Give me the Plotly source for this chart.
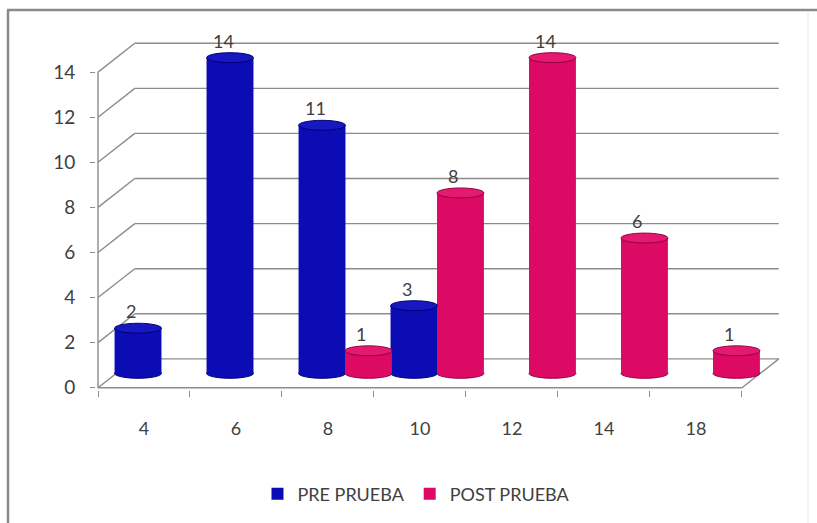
import plotly.graph_objects as go

# ---- data ----
categories = ["4", "6", "8", "10", "12", "14", "18"]
pre_prueba = [2, 14, 11, 3, 0, 0, 0]
post_prueba = [0, 0, 1, 8, 14, 6, 1]
y_ticks = [0, 2, 4, 6, 8, 10, 12, 14]

# ---- canvas geometry ----
W, H = 817, 523
M_L, M_R, M_T, M_B = 96, 35, 27, 132
X_RANGE = [-0.5217, 6.935]
Y_RANGE = [-0.1, 16]
DEPTH_X = 0.40      # back-wall shift, category units
DEPTH_Y = 1.28      # back-wall shift, value units
CAP = 0.22          # half height of cylinder caps, value units
Y2_RANGE = [Y_RANGE[0] - DEPTH_Y / 2, Y_RANGE[1] - DEPTH_Y / 2]

FONT = "Lato, 'Open Sans', sans-serif"
TEXT_COLOR = "#404040"
GRID = "#8c8c8c"

series = [
    dict(name="PRE PRUEBA", values=pre_prueba, body="#0c0cb4", cap="#1818c0",
         edge="#000078", offset=-0.32, width=0.51),
    dict(name="POST PRUEBA", values=post_prueba, body="#dc0a64", cap="#e41a70",
         edge="#960042", offset=0.185, width=0.51),
]


def paper_x(px):
    return (px - M_L) / (W - M_L - M_R)


def paper_y(py):
    return (H - M_B - py) / (H - M_T - M_B)


fig = go.Figure()

shapes = []
annotations = []

# walls and floor of the 3-D frame
x_left, x_right = -0.5, len(categories) - 0.5
for v in y_ticks:
    shapes.append(dict(type="line", xref="x", yref="y", layer="below",
                       x0=x_left, y0=v, x1=x_left + DEPTH_X, y1=v + DEPTH_Y,
                       line=dict(color=GRID, width=1.4)))
    shapes.append(dict(type="line", xref="x", yref="y", layer="below",
                       x0=x_left + DEPTH_X, y0=v + DEPTH_Y,
                       x1=x_right + DEPTH_X, y1=v + DEPTH_Y,
                       line=dict(color=GRID, width=1.4)))
shapes.append(dict(type="line", xref="x", yref="y", layer="below",
                   x0=x_left, y0=0, x1=x_left, y1=max(y_ticks),
                   line=dict(color=GRID, width=1.4)))
shapes.append(dict(type="line", xref="x", yref="y", layer="below",
                   x0=x_left, y0=0, x1=x_right, y1=0,
                   line=dict(color=GRID, width=1.4)))
shapes.append(dict(type="line", xref="x", yref="y", layer="below",
                   x0=x_right, y0=0, x1=x_right + DEPTH_X, y1=DEPTH_Y,
                   line=dict(color=GRID, width=1.4)))

# cylinders: bar body plus elliptical base and top
for s in series:
    fig.add_trace(go.Bar(
        x=categories,
        y=[v if v else None for v in s["values"]],
        name=s["name"],
        xaxis="x", yaxis="y2",
        offset=s["offset"], width=s["width"],
        marker=dict(color=s["body"], line=dict(width=0)),
        hoverinfo="x+y",
    ))
    for i, v in enumerate(s["values"]):
        if not v:
            continue
        x0 = i + s["offset"]
        x1 = x0 + s["width"]
        shapes.append(dict(type="circle", xref="x", yref="y2", layer="below",
                           x0=x0, x1=x1, y0=-CAP, y1=CAP,
                           fillcolor=s["body"], line=dict(color=s["edge"], width=1)))
        shapes.append(dict(type="circle", xref="x", yref="y2", layer="above",
                           x0=x0, x1=x1, y0=v - CAP, y1=v + CAP,
                           fillcolor=s["cap"], line=dict(color=s["edge"], width=1)))
        annotations.append(dict(xref="x", yref="y2", x=(x0 + x1) / 2, y=v,
                                text=str(v), showarrow=False, xshift=-7, yshift=17,
                                font=dict(family=FONT, size=18, color=TEXT_COLOR)))

# outer chart border
shapes.append(dict(type="line", xref="paper", yref="paper",
                   x0=paper_x(8), y0=paper_y(10), x1=paper_x(8), y1=paper_y(530),
                   line=dict(color="#8a8a8a", width=2.5)))
shapes.append(dict(type="line", xref="paper", yref="paper",
                   x0=paper_x(7), y0=paper_y(10), x1=paper_x(820), y1=paper_y(10),
                   line=dict(color="#8a8a8a", width=2.5)))
shapes.append(dict(type="line", xref="paper", yref="paper",
                   x0=paper_x(808), y0=paper_y(11), x1=paper_x(808), y1=paper_y(530),
                   line=dict(color="#e6e6e6", width=1)))

fig.update_layout(
    width=W, height=H,
    margin=dict(l=M_L, r=M_R, t=M_T, b=M_B, pad=0),
    paper_bgcolor="white", plot_bgcolor="rgba(0,0,0,0)",
    font=dict(family=FONT, size=18, color=TEXT_COLOR),
    barmode="overlay",
    xaxis=dict(type="category", categoryorder="array", categoryarray=categories,
               range=X_RANGE, showgrid=False, showline=False, zeroline=False,
               tickson="boundaries", ticks="outside", ticklen=6, tickcolor=GRID,
               tickwidth=1.4, ticklabelstandoff=26,
               tickfont=dict(family=FONT, size=18, color=TEXT_COLOR)),
    yaxis=dict(range=Y_RANGE, tickvals=y_ticks, showgrid=False, showline=False,
               zeroline=False, ticks="outside", ticklen=5, tickcolor=GRID,
               tickwidth=1.4, ticklabelstandoff=11,
               tickfont=dict(family=FONT, size=19, color=TEXT_COLOR)),
    yaxis2=dict(range=Y2_RANGE, overlaying="y", visible=False),
    legend=dict(orientation="h", x=paper_x(416), xanchor="center",
                y=paper_y(494), yanchor="middle",
                font=dict(family=FONT, size=18, color=TEXT_COLOR),
                itemwidth=30, traceorder="normal"),
    shapes=shapes,
    annotations=annotations,
)

fig.write_html("out.html")
